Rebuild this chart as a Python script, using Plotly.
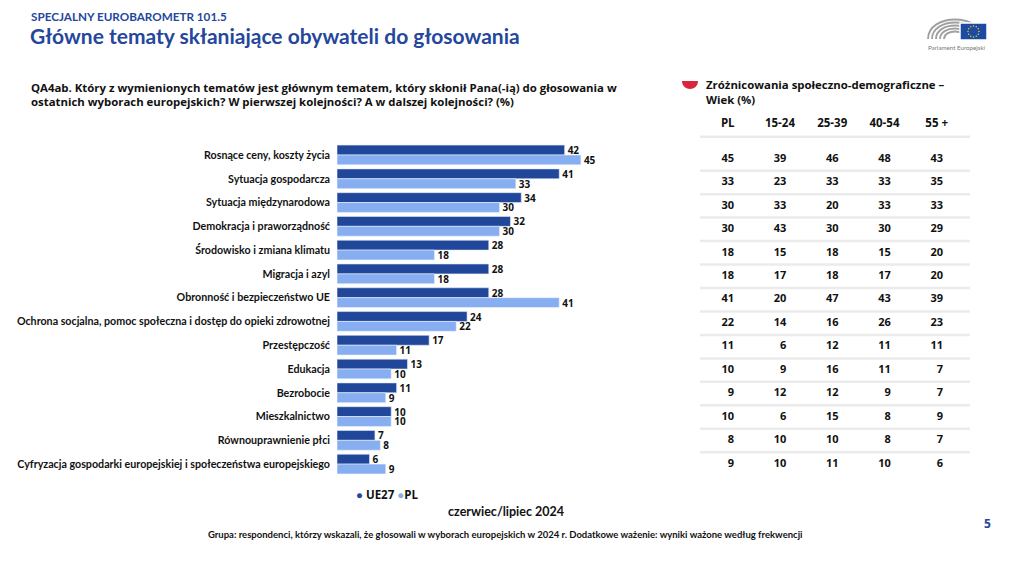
import math
import plotly.graph_objects as go

OFF = 8  # default page body margin
W, H = 1024 - OFF, 565 - OFF

categories = [
    "Rosnące ceny, koszty życia",
    "Sytuacja gospodarcza",
    "Sytuacja międzynarodowa",
    "Demokracja i praworządność",
    "Środowisko i zmiana klimatu",
    "Migracja i azyl",
    "Obronność i bezpieczeństwo UE",
    "Ochrona socjalna, pomoc społeczna i dostęp do opieki zdrowotnej",
    "Przestępczość",
    "Edukacja",
    "Bezrobocie",
    "Mieszkalnictwo",
    "Równouprawnienie płci",
    "Cyfryzacja gospodarki europejskiej i społeczeństwa europejskiego",
]
ue27 = [42, 41, 34, 32, 28, 28, 28, 24, 17, 13, 11, 10, 7, 6]
pl = [45, 33, 30, 30, 18, 18, 41, 22, 11, 10, 9, 10, 8, 9]

table_headers = ["PL", "15-24", "25-39", "40-54", "55 +"]
age_15_24 = [39, 23, 33, 43, 15, 17, 20, 14, 6, 9, 12, 6, 10, 10]
age_25_39 = [46, 33, 20, 30, 18, 18, 47, 16, 12, 16, 12, 15, 10, 11]
age_40_54 = [48, 33, 33, 30, 15, 17, 43, 26, 11, 11, 9, 8, 8, 10]
age_55p = [43, 35, 33, 29, 20, 20, 39, 23, 11, 7, 7, 9, 7, 6]

DARK = "#21479a"
LIGHT = "#86aef0"
BLUE_T = "#24479b"
FONT = "Lato"
WIDE = "Open Sans"


def px(x):
    return (x - OFF) / W


def py(y):
    return 1 - (y - OFF) / H


fig = go.Figure()

for nm, vals, col, lc in [("UE27", ue27, DARK, "#dfe8f8"), ("PL", pl, LIGHT, "#eef3fc")]:
    fig.add_trace(go.Bar(
        y=categories, x=vals, orientation="h", name=nm,
        marker=dict(color=col, line=dict(color=lc, width=0.6)),
        text=vals, textposition="outside", cliponaxis=False, constraintext="none",
        textfont=dict(family=WIDE, size=10, color="#111111", weight="bold"),
        showlegend=False, xaxis="x", yaxis="y",
    ))

# table as text scatter on its own axes
cols = [pl, age_15_24, age_25_39, age_40_54, age_55p]
rows_idx = list(range(len(categories)))
for ci, colvals in enumerate(cols):
    fig.add_trace(go.Scatter(
        x=[ci] * len(colvals), y=rows_idx, mode="text",
        text=[str(v) for v in colvals], textposition="middle left",
        textfont=dict(family=WIDE, size=11, color="#111111", weight="bold"),
        xaxis="x2", yaxis="y2", showlegend=False, hoverinfo="skip",
    ))
fig.add_trace(go.Scatter(
    x=[i - 0.12 for i in range(len(table_headers))], y=[-1.5] * len(table_headers),
    mode="text", text=table_headers, textposition="middle center",
    textfont=dict(family=WIDE, size=11.5, color="#111111", weight="bold"),
    xaxis="x2", yaxis="y2", showlegend=False, hoverinfo="skip",
))

shapes = []
line_rows = [-0.95] + [k + 0.5 for k in range(len(categories) - 1)]
for yv in line_rows:
    shapes.append(dict(type="line", xref="x2 domain", yref="y2", x0=0, x1=1,
                       y0=yv, y1=yv, line=dict(color="#ebebeb", width=2.5), layer="below"))

# red half-circle icon
r = 8
shapes.append(dict(type="path", xref="paper", yref="paper", xsizemode="pixel", ysizemode="pixel",
                   xanchor=px(690), yanchor=py(81),
                   path=f"M {-r},0 C {-r},{-4/3*r} {r},{-4/3*r} {r},0 Z",
                   fillcolor="#d7263d", line=dict(width=0)))

# EP logo
for rx, ry in [(27, 26), (23, 22), (19, 18), (15, 14), (11, 10)]:
    shapes.append(dict(type="path", xref="paper", yref="paper", xsizemode="pixel", ysizemode="pixel",
                       xanchor=px(955), yanchor=py(39),
                       path=f"M {-rx},0 C {-rx},{ry} {rx},{ry} {rx},0",
                       line=dict(color="#a0a0a0", width=1.8)))
shapes.append(dict(type="rect", xref="paper", yref="paper", x0=px(960), x1=px(987),
                   y0=py(40), y1=py(23), fillcolor="#1d4aa3", line=dict(color="white", width=1.5)))
for k in range(12):
    a = 2 * math.pi * k / 12
    cx, cy = 973.5 + 5.5 * math.cos(a), 31.5 + 5.5 * math.sin(a)
    shapes.append(dict(type="circle", xref="paper", yref="paper",
                       x0=px(cx - 0.7), x1=px(cx + 0.7), y0=py(cy + 0.7), y1=py(cy - 0.7),
                       fillcolor="#ffdd00", line=dict(width=0)))

ann = []


def txt(x, y, s, size, color="#111111", xanchor="left", bold=True, family=FONT, yanchor="middle"):
    ann.append(dict(x=px(x), y=py(y), xref="paper", yref="paper", text=s, showarrow=False,
                    xanchor=xanchor, yanchor=yanchor, align="left", borderpad=0,
                    font=dict(family=family, size=size, color=color, weight="bold" if bold else "normal")))


txt(30, 8, "SPECJALNY EUROBAROMETR 101.5", 11.7, BLUE_T, family=FONT, yanchor="top")
txt(29, 35, "Główne tematy skłaniające obywateli do głosowania", 21, BLUE_T, family=FONT)
txt(30, 87, "QA4ab. Który z wymienionych tematów jest głównym tematem, który skłonił Pana(-ią) do głosowania w",
    11.4, family=WIDE)
txt(30, 102, "ostatnich wyborach europejskich? W pierwszej kolejności? A w dalszej kolejności? (%)",
    11.4, family=WIDE)
txt(705, 84, "Zróżnicowania społeczno-demograficzne –", 11.4, family=WIDE)
txt(705, 99, "Wiek (%)", 11.4, family=WIDE)
txt(506, 511, "czerwiec/lipiec 2024", 12.5, xanchor="center", family=FONT)
txt(505, 534, "Grupa: respondenci, którzy wskazali, że głosowali w wyborach europejskich w 2024 r. "
              "Dodatkowe ważenie: wyniki ważone według frekwencji", 9.5, xanchor="center", family=FONT)
txt(987, 523, "5", 12, BLUE_T, xanchor="center", family=WIDE)
txt(957, 47, "Parlament Europejski", 6.2, "#777777", xanchor="center", bold=False)
# legend
txt(355, 494, f"<span style='color:{DARK}'>●</span> UE27 <span style='color:{LIGHT}'>●</span>PL",
    11.5, family=WIDE)

fig.update_layout(
    width=W, height=H,
    margin=dict(l=0, r=0, t=0, b=0),
    paper_bgcolor="white", plot_bgcolor="white",
    barmode="group", bargap=0.17, bargroupgap=0,
    font=dict(family=FONT, color="#111111"),
    xaxis=dict(domain=[px(337), px(337 + 271)], range=[0, 50], visible=False, fixedrange=True),
    yaxis=dict(domain=[py(476), py(143.1)], range=[13.5, -0.5], type="category",
               showgrid=False, zeroline=False, showline=False, ticks="",
               ticklabelstandoff=6,
               tickfont=dict(family=FONT, size=10.7, color="#111111", weight="bold"),
               automargin=False),
    xaxis2=dict(domain=[px(700), px(970)], range=[-0.651, 4.517], visible=False, anchor="y2"),
    yaxis2=dict(domain=[py(475.7), py(100.3)], range=[13.5, -2.5], visible=False, anchor="x2"),
    shapes=shapes,
    annotations=ann,
    showlegend=False,
)

fig.write_html("out.html")
